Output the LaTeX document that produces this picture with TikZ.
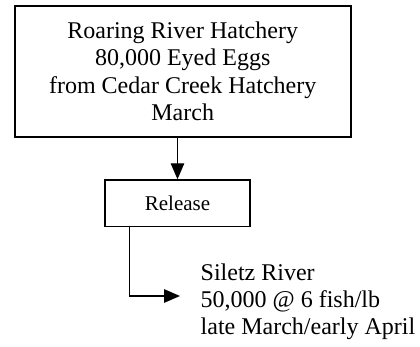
\documentclass[tikz,border=0pt]{standalone}
\usepackage{fontspec}
\setmainfont{Liberation Serif}
\usetikzlibrary{arrows.meta,calc}
\begin{document}
\begin{tikzpicture}[x=1pt,y=1pt,
  bigbox/.style={draw,line width=2pt,minimum width=336pt,minimum height=131pt,inner sep=0pt,align=center,font=\fontsize{24}{27.5}\selectfont},
  smallbox/.style={draw,line width=1.4pt,minimum width=145pt,minimum height=46.7pt,inner sep=0pt,font=\fontsize{21}{24}\selectfont},
  lbl/.style={inner sep=0pt,align=left,font=\fontsize{24}{26.7}\selectfont},
  conn/.style={line width=1.4pt,-{Triangle[length=16pt,width=13.5pt]}}]
\useasboundingbox (0,0) rectangle (420,346);
\node[bigbox] (top) at (182.7,274.8) {Roaring River Hatchery\\80,000 Eyed Eggs\\from Cedar Creek Hatchery\\March};
\node[smallbox] (rel) at (177.5,142.7) {Release};
\node[lbl,anchor=west] (sil) at (200.5,44.25) {Siletz River\\50,000 @ 6 fish/lb\\late March/early April};
\coordinate (tip) at ($(sil.west)+(-20.5,5.75)$);
\coordinate (start) at ($(rel.south west)+(25,0)$);
\draw[conn] (top.south -| rel.north) -- (rel.north);
\draw[conn] (start) |- (tip);
\end{tikzpicture}
\end{document}
